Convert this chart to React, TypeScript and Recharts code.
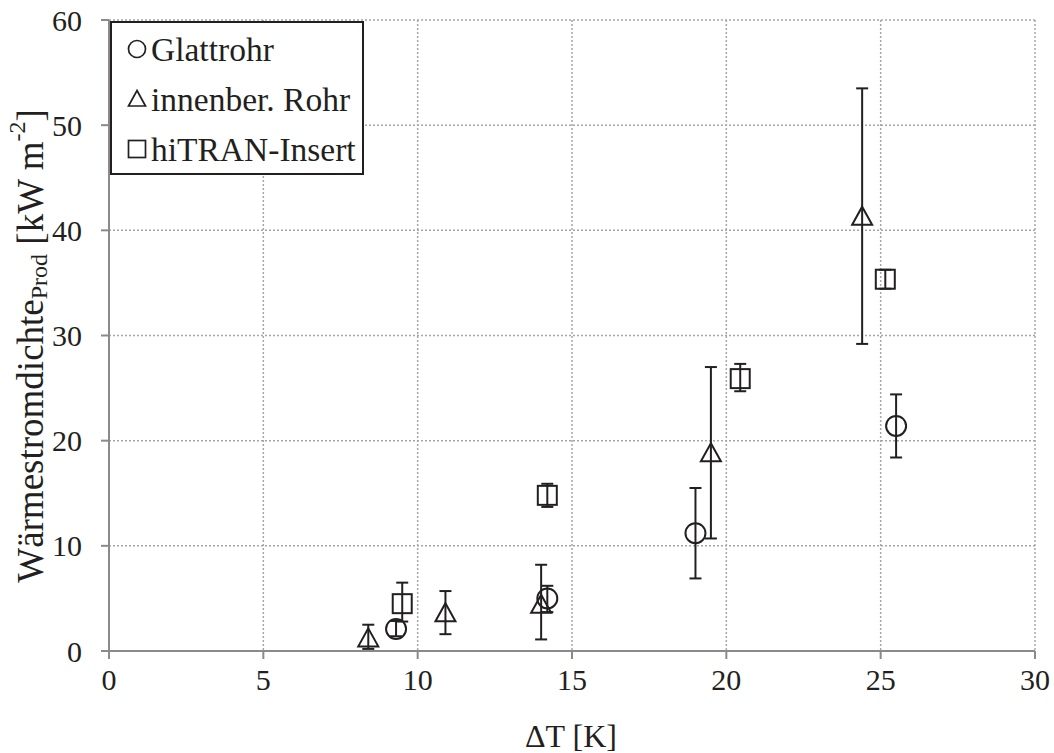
import React from "react";
import { ScatterChart, Scatter, XAxis, YAxis, CartesianGrid, ErrorBar } from "recharts";

const INK = "#231f20";
const AXIS = "#8a8a8a";
const GRID = "#a6a6a6";
const FONT = "'Liberation Serif', 'Times New Roman', serif";

const xTicks = [0, 5, 10, 15, 20, 25, 30];
const yTicks = [0, 10, 20, 30, 40, 50, 60];

const glattX = [9.3, 14.2, 19.0, 25.5];
const glattY = [2.1, 5.0, 11.2, 21.4];
const glattLow = [1.4, 3.7, 6.9, 18.4];
const glattHigh = [2.85, 6.2, 15.5, 24.4];

const innenX = [8.4, 10.9, 14.0, 19.5, 24.4];
const innenY = [1.2, 3.6, 4.4, 18.8, 41.3];
const innenLow = [0.2, 1.6, 1.1, 10.7, 29.2];
const innenHigh = [2.5, 5.7, 8.2, 27.0, 53.5];

const hitranX = [9.5, 14.2, 20.45, 25.15];
const hitranY = [4.5, 14.8, 25.9, 35.35];
const hitranLow = [2.8, 13.7, 24.7, 34.45];
const hitranHigh = [6.5, 15.9, 27.3, 36.25];

const legendNames = ["Glattrohr", "innenber. Rohr", "hiTRAN-Insert"];

function build(xs: number[], ys: number[], lo: number[], hi: number[]) {
  return xs.map((x, i) => ({ x, y: ys[i], err: [ys[i] - lo[i], hi[i] - ys[i]] }));
}

const glattData = build(glattX, glattY, glattLow, glattHigh);
const innenData = build(innenX, innenY, innenLow, innenHigh);
const hitranData = build(hitranX, hitranY, hitranLow, hitranHigh);

const CircleShape = (p: any) => (
  <circle cx={p.cx} cy={p.cy} r={10} fill="none" stroke={INK} strokeWidth={2} />
);
const TriangleShape = (p: any) => (
  <polygon
    points={`${p.cx},${p.cy - 10} ${p.cx + 10},${p.cy + 8} ${p.cx - 10},${p.cy + 8}`}
    fill="none"
    stroke={INK}
    strokeWidth={2}
    strokeLinejoin="miter"
  />
);
const SquareShape = (p: any) => (
  <rect x={p.cx - 9.5} y={p.cy - 9.5} width={19} height={19} fill="none" stroke={INK} strokeWidth={2} />
);

const YLabel = () => (
  <text
    x={30}
    y={346}
    transform="rotate(-90 30 346)"
    textAnchor="middle"
    dominantBaseline="central"
    fontFamily={FONT}
    fontSize={37}
    fill={INK}
  >
    Wärmestromdichte
    <tspan fontSize={24} dy={9}>Prod</tspan>
    <tspan dy={-9}> [kW m</tspan>
    <tspan fontSize={24} dy={-13}>-2</tspan>
    <tspan dy={13}>]</tspan>
  </text>
);

const XLabel = () => (
  <text x={571} y={736} textAnchor="middle" dominantBaseline="central" fontFamily={FONT} fontSize={32} fill={INK}>
    ΔT [K]
  </text>
);

const LegendSym = ({ i }: { i: number }) => (
  <svg width={22} height={22} style={{ display: "block" }}>
    {i === 0 && <circle cx={11} cy={11} r={8.5} fill="none" stroke={INK} strokeWidth={1.7} />}
    {i === 1 && <polygon points="11,2.5 19.5,18 2.5,18" fill="none" stroke={INK} strokeWidth={1.7} />}
    {i === 2 && <rect x={2.5} y={2.5} width={17} height={17} fill="none" stroke={INK} strokeWidth={1.7} />}
  </svg>
);

export default function App() {
  return (
    <div style={{ position: "absolute", left: 0, top: 0, width: 1054, height: 753, background: "#fff" }}>
      <ScatterChart width={1054} height={753} margin={{ top: 20, right: 19, bottom: 42, left: 49 }}>
        <CartesianGrid stroke={GRID} strokeDasharray="2 2" strokeWidth={1.5} />
        <XAxis
          type="number"
          dataKey="x"
          domain={[0, 30]}
          ticks={xTicks}
          interval={0}
          height={60}
          stroke={AXIS}
          strokeWidth={2}
          tickSize={8}
          tickMargin={10}
          tick={{ fill: INK, fontFamily: FONT, fontSize: 30 }}
          label={<XLabel />}
        />
        <YAxis
          type="number"
          dataKey="y"
          domain={[0, 60]}
          ticks={yTicks}
          interval={0}
          width={60}
          stroke={AXIS}
          strokeWidth={2}
          tickSize={8}
          tickMargin={19}
          tick={{ fill: INK, fontFamily: FONT, fontSize: 30 }}
          label={<YLabel />}
        />
        <Scatter data={glattData} shape={CircleShape} isAnimationActive={false}>
          <ErrorBar dataKey="err" direction="y" width={6} stroke={INK} strokeWidth={2} />
        </Scatter>
        <Scatter data={innenData} shape={TriangleShape} isAnimationActive={false}>
          <ErrorBar dataKey="err" direction="y" width={6} stroke={INK} strokeWidth={2} />
        </Scatter>
        <Scatter data={hitranData} shape={SquareShape} isAnimationActive={false}>
          <ErrorBar dataKey="err" direction="y" width={6} stroke={INK} strokeWidth={2} />
        </Scatter>
      </ScatterChart>
      <div
        style={{
          position: "absolute",
          left: 110,
          top: 21,
          width: 250,
          height: 149,
          border: `2px solid ${INK}`,
          background: "#fff",
          fontFamily: FONT,
          fontSize: 33.5,
          color: INK,
          paddingTop: 1,
          boxSizing: "content-box",
          whiteSpace: "nowrap",
        }}
      >
        {legendNames.map((n, i) => (
          <div key={n} style={{ display: "flex", alignItems: "center", height: 50, paddingLeft: 14 }}>
            <LegendSym i={i} />
            <span style={{ marginLeft: 3, lineHeight: "33px" }}>{n}</span>
          </div>
        ))}
      </div>
    </div>
  );
}
